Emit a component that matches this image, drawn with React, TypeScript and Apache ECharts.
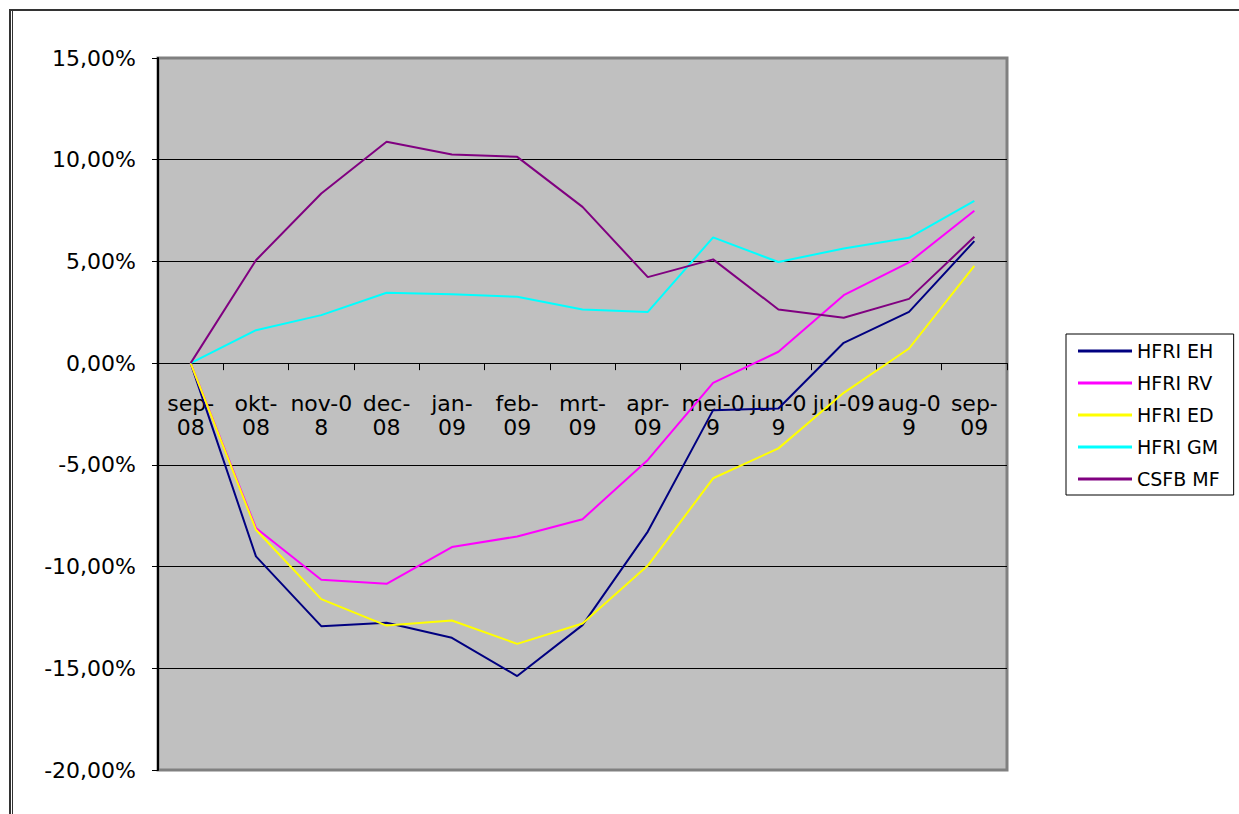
import React, { useEffect, useRef } from "react";
import * as echarts from "echarts";

const categories = ["sep-08", "okt-08", "nov-08", "dec-08", "jan-09", "feb-09", "mrt-09", "apr-09", "mei-09", "jun-09", "jul-09", "aug-09", "sep-09"];
const tickLabels = ["sep-\n08", "okt-\n08", "nov-0\n8", "dec-\n08", "jan-\n09", "feb-\n09", "mrt-\n09", "apr-\n09", "mei-0\n9", "jun-0\n9", "jul-09", "aug-0\n9", "sep-\n09"];

const seriesNames = ["HFRI EH", "HFRI RV", "HFRI ED", "HFRI GM", "CSFB MF"];
const seriesColors = ["#000080", "#FF00FF", "#FFFF00", "#00FFFF", "#800080"];

const hfriEH = [0, -9.5, -12.93, -12.76, -13.5, -15.38, -12.88, -8.28, -2.31, -2.23, 1.0, 2.52, 6.0];
const hfriRV = [0, -8.1, -10.65, -10.85, -9.04, -8.52, -7.67, -4.76, -0.97, 0.56, 3.34, 4.95, 7.49];
const hfriED = [0, -8.19, -11.6, -12.9, -12.65, -13.8, -12.8, -9.95, -5.66, -4.19, -1.46, 0.72, 4.78];
const hfriGM = [0, 1.62, 2.36, 3.46, 3.39, 3.26, 2.64, 2.52, 6.18, 4.97, 5.64, 6.16, 7.98];
const csfbMF = [0, 5.06, 8.34, 10.88, 10.26, 10.14, 7.68, 4.23, 5.1, 2.64, 2.23, 3.16, 6.21];

const seriesValues = [hfriEH, hfriRV, hfriED, hfriGM, csfbMF];

const Y_MIN = -20;
const Y_MAX = 15;
const Y_STEP = 5;

const FONT = "DejaVu Sans";

export default function App() {
  const ref = useRef<HTMLDivElement>(null);

  useEffect(() => {
    if (!ref.current) return;
    const chart = echarts.init(ref.current, undefined, { renderer: "svg" });
    const gridHeight = 712;
    // move the category axis up to the zero line of the value axis
    const zeroOffset = -(gridHeight * (0 - Y_MIN)) / (Y_MAX - Y_MIN);
    chart.setOption({
      animation: false,
      backgroundColor: "#ffffff",
      graphic: [
        {
          type: "rect",
          shape: { x: 10, y: 10, width: 1240, height: 820 },
          style: { fill: "none", stroke: "#333333", lineWidth: 2 },
          silent: true,
        },
        {
          type: "line",
          shape: { x1: 12.5, y1: 10, x2: 12.5, y2: 820 },
          style: { stroke: "#333333", lineWidth: 1 },
          silent: true,
        },
      ],
      grid: {
        left: 158,
        top: 58,
        width: 849,
        height: gridHeight,
        show: true,
        backgroundColor: "#C0C0C0",
        borderColor: "#808080",
        borderWidth: 3,
        containLabel: false,
        outerBoundsMode: "none",
      },
      legend: {
        orient: "vertical",
        left: 1066,
        top: 334,
        width: 171,
        padding: [7, 14, 6, 12],
        backgroundColor: "#ffffff",
        borderColor: "#000000",
        borderWidth: 1,
        icon: "rect",
        itemWidth: 54,
        itemHeight: 3,
        itemGap: 12,
        data: seriesNames,
        textStyle: { fontFamily: FONT, fontSize: 19, color: "#000", lineHeight: 20 },
      },
      xAxis: {
        type: "category",
        data: categories,
        boundaryGap: true,
        position: "bottom",
        offset: zeroOffset,
        axisLine: { onZero: false, lineStyle: { color: "#000", width: 1 } },
        axisTick: { show: true, length: 7, alignWithLabel: false, lineStyle: { color: "#000", width: 1 } },
        axisLabel: {
          interval: 0,
          margin: 28,
          fontFamily: FONT,
          fontSize: 22,
          lineHeight: 24,
          color: "#000",
          formatter: (_v: string, i: number) => tickLabels[i],
        },
        splitLine: { show: false },
      },
      yAxis: {
        type: "value",
        min: Y_MIN,
        max: Y_MAX,
        interval: Y_STEP,
        axisLine: { show: true, lineStyle: { color: "#000", width: 2 } },
        axisTick: { show: true, length: 6, lineStyle: { color: "#000", width: 1 } },
        axisLabel: {
          margin: 22,
          fontFamily: FONT,
          fontSize: 22,
          color: "#000",
          formatter: (v: number) => v.toFixed(2).replace(".", ",") + "%",
        },
        splitLine: {
          show: true,
          lineStyle: { color: "#000", width: 1 },
          showMinLine: false,
          showMaxLine: false,
        },
      },
      series: seriesNames.map((name, i) => ({
        name,
        type: "line",
        data: seriesValues[i],
        symbol: "none",
        showSymbol: false,
        color: seriesColors[i],
        lineStyle: { color: seriesColors[i], width: 2 },
        z: 3 + i,
      })),
    });
    return () => chart.dispose();
  }, []);

  return (
    <div
      ref={ref}
      style={{ position: "fixed", left: 0, top: 0, width: 1239, height: 814 }}
    />
  );
}
